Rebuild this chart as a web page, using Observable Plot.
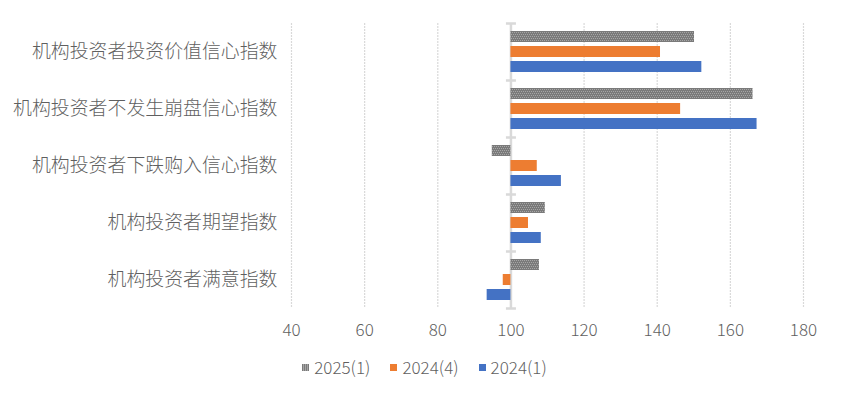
<!DOCTYPE html>
<html>
<head>
<meta charset="utf-8">
<script src="https://cdn.jsdelivr.net/npm/d3@7"></script>
<script src="https://cdn.jsdelivr.net/npm/@observablehq/plot@0.6"></script>
<style>
  body { margin: 0; background: #fff; font-family: "Noto Sans CJK SC", "Noto Sans", sans-serif; }
  #chart { width: 841px; }
  .legend { display: flex; justify-content: center; gap: 20px; margin-top: 11px; padding-left: 8px;
            font-size: 17px; color: #5f5f5f; line-height: 22px; font-weight: 300; }
  .legend span.item { display: flex; align-items: center; }
  .sw { display: inline-block; width: 7px; height: 7px; margin-right: 5px; }
  svg text { font-weight: 300; }
</style>
</head>
<body>
<div id="chart"></div>
<script>
const categories = [
  "机构投资者投资价值信心指数",
  "机构投资者不发生崩盘信心指数",
  "机构投资者下跌购入信心指数",
  "机构投资者期望指数",
  "机构投资者满意指数"
];
const series = ["2025(1)", "2024(4)", "2024(1)"];
const values2025_1 = [150.2, 166.2, 94.9, 109.4, 107.8];
const values2024_4 = [140.9, 146.4, 107.2, 104.8, 97.9];
const values2024_1 = [152.2, 167.3, 113.8, 108.3, 93.5];
const xTicks = [40, 60, 80, 100, 120, 140, 160, 180];
const baseline = 100;
const seriesColors = ["url(#pat2025)", "#ED7D31", "#4472C4"];

const allValues = [values2025_1, values2024_4, values2024_1];
const data = [];
categories.forEach((c, i) => {
  series.forEach((s, j) => data.push({cat: c, series: s, value: allValues[j][i]}));
});

const hline = { draw(ctx) { ctx.moveTo(-5, 0); ctx.lineTo(5, 0); } };

const chart = Plot.plot({
  width: 841,
  height: 345,
  marginLeft: 291,
  marginRight: 38,
  marginTop: 23,
  marginBottom: 37,
  style: { fontFamily: '"Noto Sans CJK SC", "Noto Sans", sans-serif', color: "#5f5f5f", background: "#fff" },
  x: { domain: [40, 180] },
  y: { domain: series, paddingInner: 0.267, paddingOuter: 0.533, axis: null },
  fy: { domain: categories, padding: 0, axis: null },
  color: { domain: series, range: seriesColors },
  marks: [
    Plot.gridX(xTicks, { stroke: "#d9d9d9", strokeOpacity: 1, strokeWidth: 1.2, strokeDasharray: "2,1" }),
    Plot.ruleX([baseline], { stroke: "#d9d9d9", strokeWidth: 2.5 }),
    Plot.dot(categories, { fy: d => d, x: () => baseline, frameAnchor: "top", symbol: hline, stroke: "#d9d9d9", strokeWidth: 2.5, fill: "none" }),
    Plot.dot(categories.slice(-1), { fy: d => d, x: () => baseline, frameAnchor: "bottom", symbol: hline, stroke: "#d9d9d9", strokeWidth: 2.5, fill: "none" }),
    Plot.barX(data, { fy: "cat", y: "series", x1: () => baseline, x2: "value", fill: "series" }),
    Plot.axisX(xTicks, { tickSize: 0, tickPadding: 15, fontSize: 17, label: null, fill: "#5f5f5f" }),
    Plot.axisFy({ anchor: "left", tickSize: 0, tickPadding: 14, fontSize: 18.9, label: null, fill: "#5f5f5f" })
  ]
});

// pattern for the 2025(1) series
const ns = "http://www.w3.org/2000/svg";
const defs = document.createElementNS(ns, "defs");
defs.innerHTML = `<pattern id="pat2025" patternUnits="userSpaceOnUse" width="4" height="4">
  <rect width="4" height="4" fill="#7a7a7a"/>
  <rect x="0" y="0" width="1" height="1" fill="#a6a6a6"/>
  <rect x="2" y="0" width="1" height="1" fill="#a6a6a6"/>
  <rect x="1" y="2" width="1" height="1" fill="#a6a6a6"/>
  <rect x="3" y="2" width="1" height="1" fill="#a6a6a6"/>
</pattern>`;
chart.insertBefore(defs, chart.firstChild);

document.getElementById("chart").appendChild(chart);

const legend = document.createElement("div");
legend.className = "legend";
series.forEach((s, j) => {
  const item = document.createElement("span");
  item.className = "item";
  const sw = document.createElement("span");
  sw.className = "sw";
  if (j === 0) {
    sw.style.background = "repeating-linear-gradient(90deg, #7a7a7a 0 1px, #a6a6a6 1px 2px)";
  } else {
    sw.style.background = seriesColors[j];
  }
  item.appendChild(sw);
  item.appendChild(document.createTextNode(s));
  legend.appendChild(item);
});
document.getElementById("chart").appendChild(legend);
</script>
</body>
</html>
